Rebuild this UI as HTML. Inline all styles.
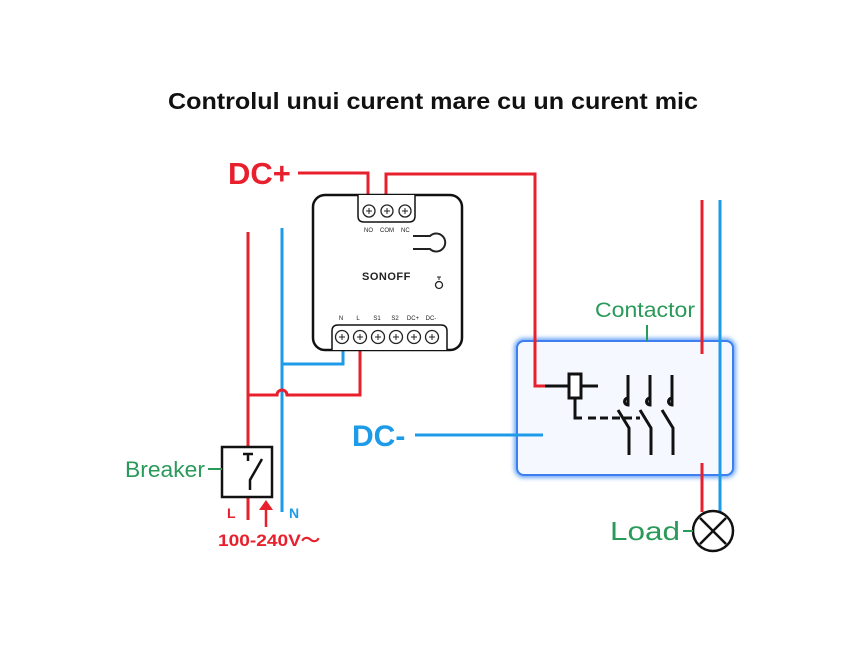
<!DOCTYPE html>
<html><head><meta charset="utf-8"><style>
html,body{margin:0;padding:0;background:#fff;width:853px;height:651px;overflow:hidden}
svg{display:block}
text{font-family:"Liberation Sans",sans-serif}
</style></head><body>
<svg width="853" height="651" viewBox="0 0 853 651" xmlns="http://www.w3.org/2000/svg">
<defs>
<filter id="gl" x="-10%" y="-10%" width="120%" height="120%"><feGaussianBlur stdDeviation="2"/></filter>
</defs>
<text x="433" y="109" text-anchor="middle" font-size="23" font-weight="bold" fill="#111" textLength="530" lengthAdjust="spacingAndGlyphs">Controlul unui curent mare cu un curent mic</text>

<!-- contactor box -->
<rect x="517" y="341" width="216" height="134" rx="7" fill="none" stroke="#6fa8f5" stroke-width="6" filter="url(#gl)"/>
<rect x="517" y="341" width="216" height="134" rx="7" fill="#f5f9ff" stroke="#3d7ff0" stroke-width="2"/>

<!-- DC+ -->
<text x="228" y="184" font-size="31" font-weight="bold" fill="#e8202e">DC+</text>
<polyline points="298,173 368,173 368,196" fill="none" stroke="#e8202e" stroke-width="3"/>
<polyline points="386,196 386,174 535,174 535,386 545,386" fill="none" stroke="#e8202e" stroke-width="3"/>

<!-- mains -->
<line x1="248" y1="232" x2="248" y2="447" stroke="#e8202e" stroke-width="3"/>
<line x1="248" y1="497" x2="248" y2="520" stroke="#e8202e" stroke-width="3"/>
<line x1="282" y1="228" x2="282" y2="512" stroke="#1e9be8" stroke-width="3"/>
<polyline points="282,364 343,364 343,350" fill="none" stroke="#1e9be8" stroke-width="3"/>
<path d="M248,395 H277 A5,5 0 0 1 287,395 H360 V351" fill="none" stroke="#e8202e" stroke-width="3"/>

<!-- device -->
<rect x="313" y="195" width="149" height="155" rx="12" fill="#fff" stroke="#111" stroke-width="2.5"/>
<path d="M358,195 V216 Q358,222 364,222 H409 Q415,222 415,216 V195" fill="#fff" stroke="#111" stroke-width="1.5"/>
<g fill="#fff" stroke="#222" stroke-width="1.3">
<circle cx="369" cy="211" r="6"/><circle cx="387" cy="211" r="6"/><circle cx="405" cy="211" r="6"/>
</g>
<g stroke="#222" stroke-width="1"><path d="M366,211h6M369,208v6M384,211h6M387,208v6M402,211h6M405,208v6"/></g>
<text x="364" y="232" font-size="6" fill="#222">NO</text><text x="380" y="232" font-size="6" fill="#222">COM</text><text x="401" y="232" font-size="6" fill="#222">NC</text>
<path d="M413,236 H430 A9,9 0 1 1 430,249 H413" fill="none" stroke="#222" stroke-width="2"/>
<text x="362" y="280" font-size="11" font-weight="bold" fill="#222" letter-spacing="0.5">SONOFF</text>
<circle cx="439" cy="285" r="3.5" fill="none" stroke="#222" stroke-width="1.3"/>
<path d="M437,277 h4 M439,277 v3" stroke="#222" stroke-width="1"/>
<path d="M332,350 V331 Q332,325 338,325 H441 Q447,325 447,331 V350" fill="#fff" stroke="#111" stroke-width="1.5"/>
<g fill="#fff" stroke="#222" stroke-width="1.3">
<circle cx="342" cy="337" r="6.5"/><circle cx="360" cy="337" r="6.5"/><circle cx="378" cy="337" r="6.5"/><circle cx="396" cy="337" r="6.5"/><circle cx="414" cy="337" r="6.5"/><circle cx="432" cy="337" r="6.5"/>
</g>
<g stroke="#222" stroke-width="1"><path d="M339,337h6M342,334v6M357,337h6M360,334v6M375,337h6M378,334v6M393,337h6M396,334v6M411,337h6M414,334v6M429,337h6M432,334v6"/></g>
<g font-size="6" fill="#222" text-anchor="middle"><text x="341" y="320">N</text><text x="358" y="320">L</text><text x="377" y="320">S1</text><text x="395" y="320">S2</text><text x="413" y="320">DC+</text><text x="431" y="320">DC-</text></g>

<!-- breaker -->
<rect x="222" y="447" width="50" height="50" fill="#fff" stroke="#111" stroke-width="2.5"/>
<path d="M243,454 H253 M248,454 V461 M262,459 L250,480 V490" fill="none" stroke="#111" stroke-width="2.5"/>
<line x1="208" y1="469" x2="222" y2="469" stroke="#2a9a5a" stroke-width="2"/>
<text x="125" y="477" font-size="22" fill="#2a9a5a" textLength="80" lengthAdjust="spacingAndGlyphs">Breaker</text>
<text x="227" y="518" font-size="14" font-weight="bold" fill="#e8202e">L</text>
<line x1="266" y1="508" x2="266" y2="527" stroke="#e8202e" stroke-width="2.5"/>
<polygon points="259,510 273,510 266,500" fill="#e8202e"/>
<text x="289" y="518" font-size="14" font-weight="bold" fill="#1e9be8">N</text>
<text x="218" y="546" font-size="17" font-weight="bold" fill="#e8202e" textLength="102" lengthAdjust="spacingAndGlyphs">100-240V～</text>

<!-- DC- -->
<text x="352" y="446" font-size="30" font-weight="bold" fill="#1e9be8">DC-</text>
<line x1="415" y1="435" x2="543" y2="435" stroke="#1e9be8" stroke-width="3"/>

<!-- contactor internals -->
<line x1="545" y1="386" x2="598" y2="386" stroke="#111" stroke-width="3"/>
<rect x="569" y="374" width="12" height="24" fill="#fff" stroke="#111" stroke-width="3"/>
<polyline points="575,398 575,418 582,418" fill="none" stroke="#111" stroke-width="3"/>
<line x1="588" y1="418" x2="640" y2="418" stroke="#111" stroke-width="3" stroke-dasharray="8,4"/>
<g fill="none" stroke="#111" stroke-width="3">
<path d="M628,375 V405 A3.5,3.5 0 1 1 628,398 M618,410 L629,428 V455"/>
<path d="M650,375 V405 A3.5,3.5 0 1 1 650,398 M640,410 L651,428 V455"/>
<path d="M672,375 V405 A3.5,3.5 0 1 1 672,398 M662,410 L673,428 V455"/>
</g>

<!-- load side -->
<line x1="702" y1="200" x2="702" y2="354" stroke="#e8202e" stroke-width="3"/>
<line x1="702" y1="463" x2="702" y2="512" stroke="#e8202e" stroke-width="3"/>
<line x1="720" y1="200" x2="720" y2="512" stroke="#1e9be8" stroke-width="3"/>
<text x="595" y="317" font-size="21" fill="#2a9a5a" textLength="100" lengthAdjust="spacingAndGlyphs">Contactor</text>
<line x1="647" y1="325" x2="647" y2="341" stroke="#2a9a5a" stroke-width="2"/>
<circle cx="713" cy="531" r="20" fill="#fff" stroke="#111" stroke-width="2.5"/>
<path d="M700,518 L726,544 M726,518 L700,544" stroke="#111" stroke-width="2.5"/>
<line x1="683" y1="531" x2="693" y2="531" stroke="#2a9a5a" stroke-width="2"/>
<text x="610" y="540" font-size="26" fill="#2a9a5a" textLength="70" lengthAdjust="spacingAndGlyphs">Load</text>
</svg>
</body></html>
